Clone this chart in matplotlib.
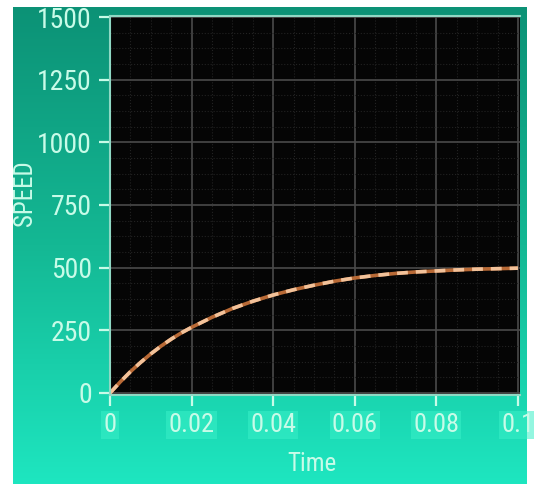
import numpy as np
from matplotlib import pyplot as plt
from matplotlib import font_manager as fm
from matplotlib.ticker import AutoMinorLocator
from matplotlib.colors import LinearSegmentedColormap

time = [0, 0.0025, 0.005, 0.0075, 0.01, 0.0125, 0.015, 0.0175, 0.02, 0.025,
        0.03, 0.035, 0.04, 0.045, 0.05, 0.055, 0.06, 0.065, 0.07, 0.075,
        0.08, 0.085, 0.09, 0.095, 0.1]
speed = [0, 44, 85, 122, 156, 187, 215, 240, 262, 302,
         337, 366, 391, 412, 430, 446, 459, 469, 477, 483,
         487, 491, 494, 496, 498]
x_ticks = [0, 0.02, 0.04, 0.06, 0.08, 0.1]
x_labels = ['0', '0.02', '0.04', '0.06', '0.08', '0.1']
y_ticks = [0, 250, 500, 750, 1000, 1250, 1500]


def pick_font():
    # narrow font if there is one, else the slimmest of what is installed
    names = {(f.name, f.stretch) for f in fm.fontManager.ttflist}
    for name in ['Liberation Sans Narrow', 'Roboto Condensed', 'Open Sans Condensed']:
        if any(n == name for n, s in names):
            return dict(family=name)
    for name in ['Roboto', 'DejaVu Sans', 'Open Sans']:
        if any(n == name and s in ('condensed', 'semi-condensed', 75, 87) for n, s in names):
            return dict(family=name, stretch='condensed')
    return dict(family='Roboto')


W, H = 534, 484
fig = plt.figure(figsize=(W / 100, H / 100), dpi=100)
fig.patch.set_facecolor('white')

# green gradient panel behind everything
bg = fig.add_axes([13 / W, 0, (527 - 13) / W, (H - 7) / H])
cmap = LinearSegmentedColormap.from_list('lv', ['#0c9276', '#14b894', '#1ee6c0'])
bg.imshow(np.linspace(0, 1, 256).reshape(-1, 1), aspect='auto', cmap=cmap,
          extent=[0, 1, 1, 0])
bg.axis('off')

ax = fig.add_axes([110 / W, (H - 395) / H, 410 / W, (395 - 16) / H])
ax.set_facecolor('#050505')
ax.set_xlim(0, 0.1005)
ax.set_ylim(-8, 1504)

ax.xaxis.set_minor_locator(AutoMinorLocator(4))
ax.yaxis.set_minor_locator(AutoMinorLocator(4))
ax.grid(which='major', color='#4a4a4a', linewidth=1.2)
ax.grid(which='minor', color='#222222', linewidth=0.8, linestyle=':')

ax.plot(time, speed, color='#b96a36', linewidth=2.6, solid_capstyle='butt')
ax.plot(time, speed, color='#f2c29a', linewidth=2.6, dashes=(3, 2.2))

txt = '#c8fbe8'
font = pick_font()
ax.set_xticks(x_ticks)
ax.set_xticklabels(x_labels, fontsize=19, color=txt, **font)
ax.set_yticks(y_ticks)
ax.set_yticklabels([str(v) for v in y_ticks], fontsize=20, color=txt, **font)
for lab in ax.get_xticklabels():
    lab.set_bbox(dict(facecolor='#3af0c8', edgecolor='none', pad=1.5, alpha=0.55))
ax.tick_params(which='major', length=8, width=1.6, color=txt, pad=5)
ax.tick_params(which='minor', length=0)
for s in ax.spines.values():
    s.set_color('#8fd8c4')
    s.set_linewidth(1.5)
ax.spines['right'].set_visible(False)

ax.set_xlabel('Time', fontsize=18, color=txt, **font)
ax.xaxis.set_label_coords(0.493, -0.15)
ax.set_ylabel('SPEED', fontsize=18, color=txt, **font)
ax.yaxis.set_label_coords(-0.178, 0.533)

fig.savefig('out.png', dpi=100)
